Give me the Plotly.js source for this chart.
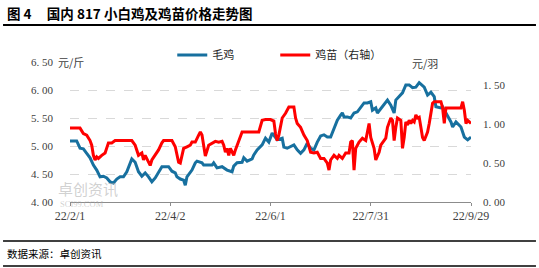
<!DOCTYPE html>
<html>
<head>
<meta charset="utf-8">
<script src="https://cdn.plot.ly/plotly-3.0.1.min.js"></script>
<style>
  html, body { margin: 0; padding: 0; background: #ffffff; }
  #chart { width: 539px; height: 268px; }
</style>
</head>
<body>
<div id="chart"></div>
<script>
// ---- Data ----
const broilerDates = ["02-01","02-05","02-07","02-09","02-11","02-13","02-15","02-17","02-19","02-21","02-23","02-25","02-27",
  "03-01","03-03","03-05","03-07","03-09","03-10","03-12","03-14","03-16","03-18","03-20","03-22","03-24","03-26","03-28","03-30",
  "04-01","04-03","04-05","04-06","04-08","04-10","04-11","04-12","04-15","04-17","04-18","04-21","04-22","04-24","04-27","04-28","04-30",
  "05-03","05-04","05-06","05-09","05-10","05-12","05-15","05-16","05-18","05-21","05-22","05-24","05-27","05-29","05-31",
  "06-02","06-04","06-05","06-08","06-09","06-11","06-14","06-15","06-17","06-19","06-21","06-23","06-25","06-27","06-29",
  "07-01","07-03","07-05","07-07","07-09","07-11","07-13","07-14","07-15","07-17","07-19","07-21","07-23","07-25","07-27","07-29","07-31",
  "08-01","08-03","08-04","08-06","08-08","08-10","08-12","08-14","08-15","08-17","08-19","08-21","08-23","08-25","08-27","08-29",
  "09-01","09-03","09-05","09-07","09-08","09-11","09-12","09-14","09-17","09-18","09-20","09-23","09-25","09-27","09-29"];
const broilerPrice = [5.09,5.09,4.96,4.95,4.87,4.79,4.66,4.57,4.45,4.46,4.43,4.36,4.34,
  4.41,4.45,4.45,4.54,4.71,4.77,4.71,4.54,4.46,4.52,4.45,4.36,4.43,4.54,4.63,4.63,
  4.63,4.55,4.52,4.45,4.41,4.39,4.30,4.45,4.57,4.70,4.73,4.70,4.66,4.66,4.66,4.70,4.61,
  4.63,4.61,4.57,4.54,4.64,4.70,4.71,4.79,4.73,4.77,4.84,4.93,5.02,5.14,5.07,
  5.23,5.16,5.11,5.14,4.98,4.96,5.00,5.02,4.93,4.87,4.93,5.05,4.96,4.93,5.07,
  5.18,5.20,5.16,5.16,5.32,5.46,5.55,5.59,5.52,5.52,5.50,5.59,5.61,5.70,5.77,5.77,5.79,
  5.64,5.68,5.59,5.66,5.73,5.82,5.73,5.59,5.82,5.88,5.95,6.09,6.09,6.04,6.05,6.13,
  6.05,5.91,5.96,5.88,5.70,5.68,5.70,5.59,5.43,5.34,5.43,5.34,5.16,5.11,5.16];

const chickDates = ["02-01","02-07","02-09","02-11","02-13","02-14","02-15","02-16","02-17","02-18","02-20","02-22","02-24","02-26","02-28",
  "03-10","03-12","03-14","03-16","03-17","03-18","03-20","03-21","03-22","03-24","03-26","03-28","03-29",
  "04-01","04-03","04-05","04-07","04-08","04-09","04-10","04-12","04-14","04-15","04-17","04-19","04-20","04-21","04-23","04-25","04-27","04-29",
  "05-01","05-03","05-04","05-05","05-06","05-07","05-08","05-10","05-11","05-13","05-15","05-19","05-25","05-27","05-29",
  "06-01","06-03","06-04","06-05","06-06","06-07","06-08","06-10","06-12","06-15","06-16","06-17","06-19","06-21","06-23","06-25","06-27","06-29",
  "07-01","07-03","07-05","07-06","07-07","07-09","07-11","07-12","07-14","07-16","07-18","07-19","07-20","07-21","07-22","07-24","07-26","07-28","07-30","07-31",
  "08-02","08-03","08-04","08-05","08-06","08-08","08-09","08-10","08-12","08-13","08-14","08-15","08-16","08-18","08-19","08-20","08-21","08-22","08-23","08-24","08-25","08-26","08-27","08-28","08-29","08-30","08-31",
  "09-01","09-02","09-03","09-04","09-05","09-06","09-07","09-11","09-12","09-13","09-14","09-23","09-24","09-25","09-26","09-27","09-28","09-29"];
const chickPrice = [0.95,0.95,0.88,0.86,0.79,0.73,0.60,0.54,0.58,0.56,0.60,0.63,0.76,0.76,0.79,
  0.79,0.73,0.60,0.63,0.54,0.60,0.51,0.47,0.54,0.60,0.67,0.76,0.79,
  0.79,0.79,0.71,0.51,0.50,0.58,0.69,0.71,0.73,0.77,0.77,0.86,0.90,0.86,0.59,0.73,0.76,0.78,
  0.77,0.78,0.73,0.64,0.69,0.60,0.69,0.60,0.67,0.79,0.90,0.90,0.90,1.05,1.06,
  1.06,1.04,0.88,0.79,0.86,0.95,1.08,1.14,1.22,1.22,1.08,1.01,0.96,0.86,0.79,0.64,0.63,0.64,
  0.56,0.56,0.50,0.41,0.54,0.60,0.56,0.60,0.56,0.63,0.63,0.77,0.79,0.41,0.69,0.77,0.82,0.79,1.01,0.83,
  0.69,0.54,0.58,0.64,0.73,0.79,0.82,0.96,1.08,1.05,0.79,0.96,1.08,1.05,0.69,0.83,1.03,0.99,1.05,1.01,1.05,1.03,1.12,1.08,1.09,0.96,0.83,
  0.79,0.86,0.90,1.01,1.14,1.27,1.29,1.29,1.21,1.01,1.21,1.21,1.29,1.18,1.01,1.05,1.03,1.01];

const year = "2022-";
const xTickVals = ["2022-02-01","2022-04-02","2022-06-01","2022-07-31","2022-09-29"];
const xTickText = ["22/2/1","22/4/2","22/6/1","22/7/31","22/9/29"];
const leftTickVals = [4.0,4.5,5.0,5.5,6.0,6.5];
const leftTickText = ["4. 00","4. 50","5. 00","5. 50","6. 00","6. 50"];
const rightTickVals = [0,0.5,1.0,1.5];
const rightTickText = ["0. 00","0. 50","1. 00","1. 50"];

const seriesNames = ["毛鸡","鸡苗（右轴）"];
const titleText = "<b>图\u00A04\u00A0\u00A0\u00A0\u00A0\u00A0国内\u00A0817\u00A0小白鸡及鸡苗价格走势图</b>";
const sourceText = "数据来源：卓创资讯";
const leftUnit = "元/斤";
const rightUnit = "元/羽";
const watermark1 = "卓创资讯";
const watermark2 = "SCI99.COM";

// ---- Plot ----
const numFont = "Liberation Serif, DejaVu Serif, serif";
const cjkFont = "Noto Sans CJK SC, sans-serif";

const traces = [
  {
    x: broilerDates.map(d => year + d), y: broilerPrice,
    name: seriesNames[0], type: "scatter", mode: "lines",
    line: {color: "#17709f", width: 3}, yaxis: "y"
  },
  {
    x: chickDates.map(d => year + d), y: chickPrice,
    name: seriesNames[1], type: "scatter", mode: "lines",
    line: {color: "#ff0000", width: 3}, yaxis: "y2"
  }
];

const layout = {
  width: 539, height: 268,
  margin: {l: 70, r: 68, t: 62, b: 66, pad: 0},
  paper_bgcolor: "#ffffff", plot_bgcolor: "#ffffff",
  showlegend: true,
  legend: {
    orientation: "h", x: 0.255, xanchor: "left", y: 1.05, yanchor: "middle",
    font: {family: cjkFont, size: 11, color: "#262626"},
    entrywidth: 58, entrywidthmode: "pixels", itemwidth: 30,
    bgcolor: "rgba(0,0,0,0)", borderwidth: 0, tracegroupgap: 0
  },
  xaxis: {
    type: "date",
    range: ["2022-02-01", "2022-09-29"],
    tickmode: "array", tickvals: xTickVals, ticktext: xTickText,
    showgrid: false, zeroline: false,
    showline: true, linecolor: "#8c8c8c", linewidth: 1,
    ticks: "outside", ticklen: 3, tickcolor: "#8c8c8c",
    tickfont: {family: numFont, size: 12, color: "#404040"}
  },
  yaxis: {
    range: [4.0, 6.5],
    tickmode: "array", tickvals: leftTickVals, ticktext: leftTickText,
    showgrid: true, gridcolor: "#d9d9d9", griddash: "dash", gridwidth: 1,
    zeroline: false, showline: false, ticks: "",
    ticklabelstandoff: 16,
    tickfont: {family: numFont, size: 11, color: "#404040"}
  },
  yaxis2: {
    overlaying: "y", side: "right",
    range: [0, 1.8],
    tickmode: "array", tickvals: rightTickVals, ticktext: rightTickText,
    showgrid: false, zeroline: false, showline: false, ticks: "",
    ticklabelstandoff: 11,
    tickfont: {family: numFont, size: 11, color: "#404040"}
  },
  shapes: [
    {type: "line", xref: "paper", yref: "paper", x0: -0.167, x1: 1.162, y0: 1.264, y1: 1.264,
     line: {color: "#000000", width: 2}},
    {type: "line", xref: "paper", yref: "paper", x0: -0.167, x1: 1.162, y0: -0.279, y1: -0.279,
     line: {color: "#000000", width: 1.5}},
    {type: "line", xref: "paper", yref: "paper", x0: -0.167, x1: 1.162, y0: -0.457, y1: -0.457,
     line: {color: "#000000", width: 1.5}}
  ],
  annotations: [
    {text: titleText, xref: "paper", yref: "paper", x: -0.162, y: 1.35, xanchor: "left", yanchor: "middle",
     showarrow: false, font: {family: cjkFont, size: 13.5, color: "#000000"}},
    {text: sourceText, xref: "paper", yref: "paper", x: -0.162, y: -0.368, xanchor: "left", yanchor: "middle",
     showarrow: false, font: {family: cjkFont, size: 10.5, color: "#000000"}},
    {text: leftUnit, xref: "paper", yref: "paper", x: -0.033, y: 1.0, xanchor: "left", yanchor: "middle",
     showarrow: false, bgcolor: "#ffffff", borderpad: 0, font: {family: cjkFont, size: 11, color: "#404040"}},
    {text: rightUnit, xref: "paper", yref: "paper", x: 0.885, y: 0.995, xanchor: "center", yanchor: "middle",
     showarrow: false, bgcolor: "#ffffff", borderpad: 0, font: {family: cjkFont, size: 11, color: "#404040"}},
    {text: watermark1, xref: "paper", yref: "paper", x: -0.035, y: 0.1, xanchor: "left", yanchor: "middle",
     showarrow: false, font: {family: cjkFont, size: 15, color: "rgba(170,170,170,0.55)"}},
    {text: watermark2, xref: "paper", yref: "paper", x: -0.03, y: -0.012, xanchor: "left", yanchor: "middle",
     showarrow: false, font: {family: numFont, size: 8.5, color: "rgba(170,170,170,0.55)"}}
  ]
};

Plotly.newPlot("chart", traces, layout, {staticPlot: true, displayModeBar: false});
</script>
</body>
</html>
